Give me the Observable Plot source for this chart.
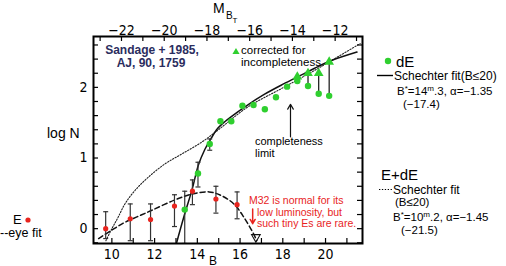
<!DOCTYPE html>
<html><head><meta charset="utf-8">
<script src="https://cdn.jsdelivr.net/npm/d3@7"></script>
<script src="https://cdn.jsdelivr.net/npm/@observablehq/plot@0.6"></script>
<style>html,body{margin:0;padding:0;background:#fff;} svg{display:block}</style>
</head><body><div id="chart"></div>
<script>
// ---- data (B = apparent blue magnitude, logN) ----
// dE galaxies (green)
const dEB    = [13.41, 14.03, 14.58, 15.08, 15.59, 16.11, 16.63, 17.16, 17.68, 18.20, 18.68, 19.18, 19.68, 20.17];
const dELogN = [0.27, 0.78, 1.20, 1.52, 1.52, 1.74, 1.75, 1.69, 1.86, 2.01, 2.09, 2.02, 1.91, 1.88];
// error bars on the bright dE bins
const dEErrB  = [13.41, 14.03, 14.58];
const dEErrLo = [-0.21, 0.59, 1.11];
const dEErrHi = [0.53, 0.94, 1.27];
// dE counts corrected for incompleteness (triangles)
const corrB      = [18.68, 19.18, 19.68, 20.17];
const corrLogN   = [2.15, 2.20, 2.20, 2.36];
const corrFromN  = [2.09, 2.02, 1.91, 1.88];
// E galaxies (red) with error bars
const eB    = [9.71, 10.86, 11.81, 12.93, 13.77, 14.87, 15.86];
const eLogN = [0.00, 0.14, 0.13, 0.32, 0.53, 0.42, 0.34];
const eLo   = [-0.14, -0.17, -0.17, 0.03, 0.34, 0.22, 0.14];
const eHi   = [0.24, 0.35, 0.35, 0.48, 0.69, 0.60, 0.52];
// Schechter fit to dE (solid)
const fitDEB = [13.03, 13.40, 13.76, 14.05, 14.35, 14.65, 14.90, 15.15, 15.56, 16.35, 17.13, 17.92, 18.71, 19.49, 20.28, 21.47];
const fitDEN = [-0.20, 0.20, 0.56, 0.90, 1.12, 1.28, 1.40, 1.48, 1.58, 1.75, 1.90, 2.03, 2.15, 2.27, 2.38, 2.50];
// Schechter fit to E+dE (dotted)
const fitAllB = [9.72, 10.00, 10.29, 10.61, 11.08, 11.71, 12.50, 13.29, 14.23, 15.07, 16.35, 17.92, 19.49, 20.28, 21.62];
const fitAllN = [-0.17, 0.00, 0.16, 0.35, 0.54, 0.73, 0.92, 1.06, 1.23, 1.42, 1.72, 1.98, 2.24, 2.38, 2.62];
// eye fit to E (dashed)
const eyeB = [9.38, 10.00, 10.61, 11.20, 11.87, 12.97, 13.76, 14.55, 15.11, 15.71, 16.18, 16.66, 16.78];
const eyeN = [-0.14, -0.02, 0.09, 0.17, 0.26, 0.41, 0.49, 0.52, 0.47, 0.35, 0.16, -0.09, -0.17];
// M32 marker
const m32B = [16.74], m32N = [-0.12];
// completeness limit arrow & M32 arrow
const complB = 18.36, complFrom = 1.30, complTo = 1.76;
const m32ArrowB = 16.59, m32ArrowFrom = 0.28, m32ArrowTo = 0.07;
// axes
const bTickLabels = [10, 12, 14, 16, 18, 20];
const bMinorTicks = [10, 11, 12, 13, 14, 15, 16, 17, 18, 19, 20, 21];
const logNTickLabels = [0, 1, 2];
const logNMinorTicks = [-0.2, 0, 0.2, 0.4, 0.6, 0.8, 1, 1.2, 1.4, 1.6, 1.8, 2, 2.2, 2.4, 2.6];
const mTicks = [-22, -20, -18, -16, -14, -12];
const mTickLabels = ["\u221222", "\u221220", "\u221218", "\u221216", "\u221214", "\u221212"];
const mMinorTicks = [-23, -22, -21, -20, -19, -18, -17, -16, -15, -14, -13, -12, -11];
const distanceModulus = 32.45; // B = M + (m - M)

// ---- layout ----
const W = 506, H = 266;
const mL = 93, mR = 144, mT = 36, mB = 23;
const FH = H - mT - mB, FW = W - mL - mR;
const TECH = "'Liberation Sans', Arial, sans-serif";
const NARROW = "'Liberation Sans Narrow', 'DejaVu Sans Condensed', 'Liberation Sans', sans-serif";
const GREEN = "#2fcf2f", RED = "#e8241e", NAVY = "#2b2d5e";

const zip = (xs, ys) => xs.map((x, i) => ({x, y: ys[i]}));
const capSymbol = {draw(ctx, size) { const r = Math.sqrt(size / Math.PI); ctx.moveTo(-r, 0); ctx.lineTo(r, 0); }};

const errE = eB.map((b, i) => ({x: b, lo: eLo[i], hi: eHi[i]}));
const errDE = dEErrB.map((b, i) => ({x: b, lo: dEErrLo[i], hi: dEErrHi[i]}));
const corr = corrB.map((b, i) => ({x: b, y1: corrFromN[i], y2: corrLogN[i]}));
const mTickB = mTicks.map(m => m + distanceModulus);
const mLabelMap = new Map(mTickB.map((b, i) => [b, mTickLabels[i]]));

const plot = Plot.plot({
  width: W, height: H,
  marginLeft: mL, marginRight: mR, marginTop: mT, marginBottom: mB,
  x: {domain: [9.14, 21.73]},
  y: {domain: [-0.21, 2.72]},
  style: {background: "white", fontFamily: NARROW, color: "black", overflow: "visible"},
  marks: [
    // inward ticks
    Plot.ruleX(bMinorTicks, {insetTop: FH - 5, stroke: "black", strokeWidth: 1.2}),
    Plot.ruleX(mMinorTicks.map(m => m + distanceModulus), {insetBottom: FH - 5, stroke: "black", strokeWidth: 1.2}),
    Plot.ruleY(logNMinorTicks, {insetRight: FW - 5, stroke: "black", strokeWidth: 1.2}),
    Plot.ruleY(logNMinorTicks, {insetLeft: FW - 5, stroke: "black", strokeWidth: 1.2}),
    Plot.axisX(bTickLabels, {anchor: "bottom", tickSize: 0, tickPadding: 6, fontSize: 14, fontFamily: NARROW, label: null, tickFormat: d => String(d)}),
    Plot.axisX(mTickB, {anchor: "top", tickSize: 0, tickPadding: 2, fontSize: 14, fontFamily: NARROW, label: null, tickFormat: b => mLabelMap.get(b)}),
    Plot.axisY(logNTickLabels, {anchor: "left", tickSize: 0, tickPadding: 6, fontSize: 14, fontFamily: NARROW, label: null, tickFormat: d => String(d)}),
    // fits
    Plot.line(zip(fitAllB, fitAllN), {x: "x", y: "y", curve: "catmull-rom", stroke: "#222", strokeWidth: 1.1, strokeDasharray: "1.3,1.6", clip: true}),
    Plot.line(zip(eyeB, eyeN), {x: "x", y: "y", curve: "catmull-rom", stroke: "#111", strokeWidth: 1.5, strokeDasharray: "5,3", clip: true}),
    Plot.line(zip(fitDEB, fitDEN), {x: "x", y: "y", curve: "catmull-rom", stroke: "#111", strokeWidth: 1.5, clip: true}),
    // error bars
    Plot.ruleX(errE, {x: "x", y1: "lo", y2: "hi", stroke: "#333", strokeWidth: 1.2}),
    Plot.dot(errE, {x: "x", y: "lo", symbol: capSymbol, r: 2.5, stroke: "#333", strokeWidth: 1.2}),
    Plot.dot(errE, {x: "x", y: "hi", symbol: capSymbol, r: 2.5, stroke: "#333", strokeWidth: 1.2}),
    Plot.ruleX(errDE, {x: "x", y1: "lo", y2: "hi", stroke: "#333", strokeWidth: 1.2, clip: true}),
    Plot.dot(errDE, {x: "x", y: "lo", symbol: capSymbol, r: 2.5, stroke: "#333", strokeWidth: 1.2, clip: true}),
    Plot.dot(errDE, {x: "x", y: "hi", symbol: capSymbol, r: 2.5, stroke: "#333", strokeWidth: 1.2}),
    // correction arrows
    Plot.ruleX(corr, {x: "x", y1: "y1", y2: "y2", stroke: "#111", strokeWidth: 1.2}),
    // points
    Plot.dot(zip(eB, eLogN), {x: "x", y: "y", r: 2.6, fill: RED}),
    Plot.dot(zip(dEB, dELogN), {x: "x", y: "y", r: 3.2, fill: GREEN}),
    Plot.dot(zip(corrB, corrLogN), {x: "x", y: "y", symbol: "triangle", r: 3.6, fill: GREEN}),
    Plot.dot(zip(m32B, m32N), {x: "x", y: "y", symbol: "triangle", rotate: 180, r: 3.2, fill: "none", stroke: "#111", strokeWidth: 1.1}),
    // arrows
    Plot.arrow([0], {x1: () => complB, x2: () => complB, y1: () => complFrom, y2: () => complTo, stroke: "#111", strokeWidth: 1.2, headLength: 7}),
    Plot.arrow([0], {x1: () => m32ArrowB, x2: () => m32ArrowB, y1: () => m32ArrowFrom, y2: () => m32ArrowTo, stroke: RED, strokeWidth: 1.5, headLength: 7}),
    Plot.frame({stroke: "black", strokeWidth: 2})
  ]
});
document.getElementById("chart").append(plot);

// ---- annotations (pixel layout) ----
const svg = d3.select(plot);
const g = svg.append("g");
function label(x, y, parts, {size = 12, family = TECH, fill = "black", weight = "normal", anchor = "start"} = {}) {
  const t = g.append("text").attr("x", x).attr("y", y).attr("font-size", size).attr("font-family", family)
    .attr("fill", fill).attr("font-weight", weight).attr("text-anchor", anchor).attr("dominant-baseline", "central");
  (Array.isArray(parts) ? parts : [[parts]]).forEach(([s, sup]) => {
    const ts = t.append("tspan").text(s);
    if (sup === 1) ts.attr("dy", -3).attr("font-size", size * 0.7);
    if (sup === -1) ts.attr("dy", 3);
  });
  return t;
}
label(152, 50, "Sandage + 1985,", {size: 12, family: "'Liberation Sans', Arial, sans-serif", weight: "bold", fill: NAVY, anchor: "middle"});
label(151, 63, "AJ, 90, 1759", {size: 12, family: "'Liberation Sans', Arial, sans-serif", weight: "bold", fill: NAVY, anchor: "middle"});
g.append("path").attr("d", d3.symbol(d3.symbolTriangle, 22)()).attr("transform", "translate(236,52)").attr("fill", GREEN);
label(241, 50, "corrected for", {size: 11.5});
label(241, 62, "incompleteness", {size: 11.5});
label(255, 141, "completeness", {size: 11});
label(255, 153, "limit", {size: 11});
const redFam = "'Liberation Sans', Arial, sans-serif";
label(249, 200, "M32 is normal for its", {size: 10.5, family: redFam, fill: RED});
label(257, 211.5, "low luminosity, but", {size: 10.5, family: redFam, fill: RED});
label(257, 223, "such tiny Es are rare.", {size: 10.5, family: redFam, fill: RED});
label(47, 133, "log N", {size: 14});
label(213, 8, "M", {size: 14});
label(226, 14.5, "B", {size: 10});
label(232.5, 19.5, "T", {size: 8});
label(213, 260.5, "B", {size: 12, anchor: "middle"});
// right legend: dE
g.append("circle").attr("cx", 388).attr("cy", 61).attr("r", 3.2).attr("fill", GREEN);
label(396, 61, "dE", {size: 15});
g.append("line").attr("x1", 377).attr("x2", 393).attr("y1", 75.5).attr("y2", 75.5).attr("stroke", "black").attr("stroke-width", 1.4);
label(394, 75.5, "Schechter fit(B\u226420)", {size: 12});
label(397, 90.5, [["B"], ["*", 1], ["=14", -1], ["m", 1], [".3", -1], [", \u03b1=\u22121.35"]], {size: 11.5});
label(403, 104, "(\u221217.4)", {size: 11.5});
// right legend: E+dE
label(381, 174, "E+dE", {size: 15});
g.append("line").attr("x1", 379).attr("x2", 392).attr("y1", 189.5).attr("y2", 189.5).attr("stroke", "black").attr("stroke-width", 1.1).attr("stroke-dasharray", "1.3,1.6");
label(393, 189.5, "Schechter fit", {size: 12});
label(395, 201.5, "(B\u226420)", {size: 11.5});
label(393, 216.5, [["B"], ["*", 1], ["=10", -1], ["m", 1], [".2", -1], [", \u03b1=\u22121.45"]], {size: 11.5});
label(401, 229.5, "(\u221221.5)", {size: 11.5});
// left legend: E
label(13, 219, "E", {size: 13});
g.append("circle").attr("cx", 28).attr("cy", 220).attr("r", 2.6).attr("fill", RED);
label(0, 233, "--eye fit", {size: 12.5});
</script>
</body></html>
